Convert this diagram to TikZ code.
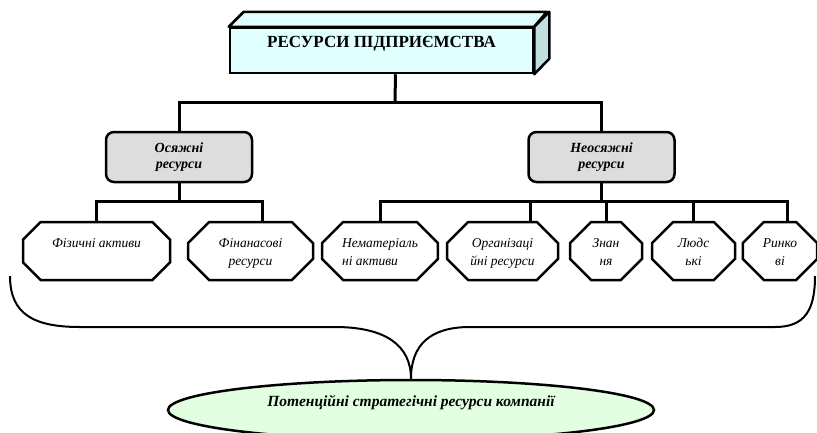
\documentclass[tikz,border=0pt]{standalone}
\usepackage{fontspec}
\setmainfont{Liberation Serif}
\usetikzlibrary{shapes.geometric, shapes.misc}

\definecolor{topfill}{RGB}{224,255,255}
\definecolor{sidefill}{RGB}{192,224,224}
\definecolor{groupfill}{RGB}{221,221,221}
\definecolor{goalfill}{RGB}{226,255,226}

\tikzset{
    topbox/.style = {draw, line width=2.5pt, fill=topfill, inner sep=0pt,
        minimum width=303pt, minimum height=45pt, text height=11pt, text depth=18pt,
        font=\bfseries\fontsize{17}{19}\selectfont},
    groupbox/.style = {draw, line width=2.5pt, fill=groupfill, rounded corners=8pt,
        minimum width=146pt, minimum height=50pt, align=center,
        font=\bfseries\itshape\fontsize{14}{16}\selectfont},
    assetbox/.style = {chamfered rectangle, chamfered rectangle xsep=20pt,
        draw, line width=2.5pt, fill=white, minimum height=58pt, inner sep=2pt,
        text height=30pt, text depth=2pt,
        font=\itshape\fontsize{13.5}{18}\selectfont},
    goalbox/.style = {ellipse, draw, line width=2.5pt, fill=goalfill, inner sep=0pt,
        minimum width=486pt, minimum height=60pt, text height=10pt, text depth=18pt,
        font=\bfseries\itshape\fontsize{15.5}{17}\selectfont},
    link/.style = {line width=3pt}
}

\begin{document}
\begin{tikzpicture}[x=1pt, y=-1pt]
    \useasboundingbox (0,0) rectangle (817,432);

    % top of the tree
    \node[topbox] (top) at (381.5,50.5) {РЕСУРСИ ПІДПРИЄМСТВА};
    \draw[line width=2.5pt, fill=topfill, line join=round] (top.north west) -- ++(15,-15) -- ++(303,0) -- (top.north east) -- cycle;
    \draw[line width=2.5pt, fill=sidefill, line join=round] (top.north east) -- ++(15,-15) -- ++(0,47) -- (top.south east) -- cycle;

    \node[groupbox] (tang) at (179,157) {Осяжні\\ресурси};
    \node[groupbox] (intang) at (601.5,157) {Неосяжні\\ресурси};

    \node[assetbox, minimum width=147pt, text height=9pt, text depth=16pt] (fiz) at (96.5,251) {Фізичні активи};
    \node[assetbox, minimum width=125pt, align=center] (fin) at (250.5,251) {Фінанасові\\ресурси};
    \node[assetbox, minimum width=114pt, align=left] (nemat) at (380,251) {Нематеріаль\\ні активи};
    \node[assetbox, minimum width=111pt, align=center] (org) at (502.5,251) {Організаці\\йні ресурси};
    \node[assetbox, minimum width=72pt, align=center] (znan) at (606,251) {Знан\\ня};
    \node[assetbox, minimum width=83pt, align=center] (lyud) at (693.5,251) {Людс\\ькі};
    \node[assetbox, minimum width=70pt, align=center] (rynk) at (780,251) {Ринко\\ві};

    \node[goalbox] (goal) at (411,410) {Потенційні стратегічні ресурси компанії};

    \coordinate (bus1) at (395,102);
    \coordinate (bus2) at (179,201);
    \coordinate (bus3) at (601.5,201);

    \draw[link] ([xshift=14pt]top.south) -- (bus1);
    \draw[link] (tang.north) |- (bus1) -| (intang.north);
    \draw[link] (tang.south) -- (bus2);
    \draw[link] (fiz.north) |- (bus2) -| ([xshift=12pt]fin.north);
    \draw[link] (intang.south) -- (bus3);
    \draw[link] (nemat.north) |- (bus3) -| ([xshift=7pt]rynk.north);
    \draw[link] ([xshift=28pt]org.north) -- ([xshift=28pt]org.north |- bus3);
    \draw[link] (znan.north) -- (znan.north |- bus3);
    \draw[link] (lyud.north) -- (lyud.north |- bus3);

    % the brace
    \coordinate (bl) at (10,276);
    \coordinate (br) at (815,276);
    \draw[line width=2pt] (bl) .. controls (10,315) and (35,327) .. (80,327) -- (335,327)
        .. controls (385,327) and (411,345) .. (goal.north)
        .. controls (411,345) and (430,327) .. (470,327) -- (775,327)
        .. controls (805,327) and (815,310) .. (br);
\end{tikzpicture}
\end{document}
